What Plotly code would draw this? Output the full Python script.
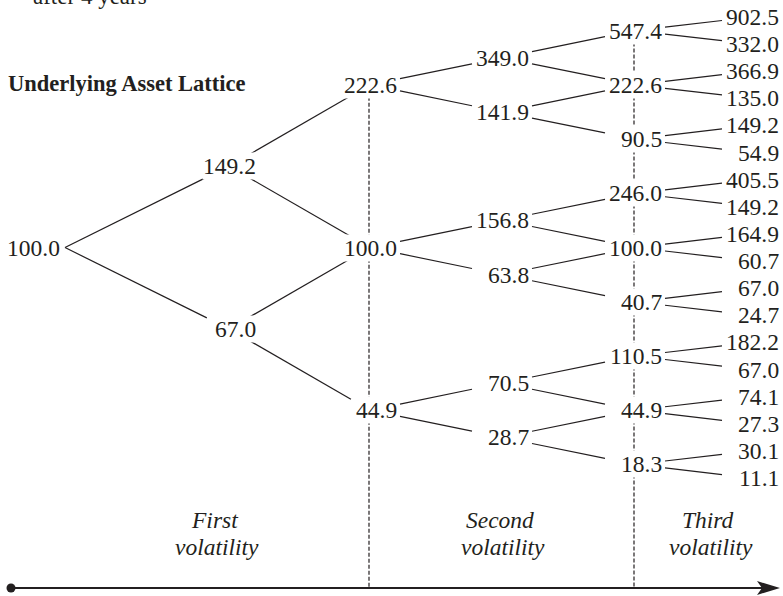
import plotly.graph_objects as go

# ---------------- data ----------------
level0 = [100.0]
level1 = [149.2, 67.0]
level2 = [222.6, 100.0, 44.9]
level3 = [349.0, 141.9, 156.8, 63.8, 70.5, 28.7]
level4 = [547.4, 222.6, 90.5, 246.0, 100.0, 40.7, 110.5, 44.9, 18.3]
level5 = [902.5, 332.0, 366.9, 135.0, 149.2, 54.9, 405.5, 149.2, 164.9,
          60.7, 67.0, 24.7, 182.2, 67.0, 74.1, 27.3, 30.1, 11.1]
period_names = ["First", "Second", "Third"]
period_word = "volatility"
title_text = "Underlying Asset Lattice"
top_caption = "after 4 years"

levels = [level0, level1, level2, level3, level4, level5]

# ---------------- structure (children indices) ----------------
def children(lv, i):
    if lv in (0, 1):            # recombining binomial, first volatility
        return [i, i + 1]
    if lv == 2:                 # each node starts a new sub-lattice
        return [2 * i, 2 * i + 1]
    if lv == 3:                 # recombining inside each sub-lattice
        k, m = divmod(i, 2)
        return [3 * k + m, 3 * k + m + 1]
    if lv == 4:                 # final branching, third volatility
        return [2 * i, 2 * i + 1]
    return []

# ---------------- layout constants (pixel-like units) ----------------
W, H = 783, 596
LEVEL_CX = [33, 229, 370, 502, 635, 752]   # box centres per level
RIGHT_OFF = 28                               # text right edge from centre
LEAF_TOP, LEAF_STEP = 17, 27.12
HW, HH = 30, 11                              # clipping box for branch lines
AXIS_Y, AXIS_X0, AXIS_X1 = 588, 11, 780
FONT = "Liberation Serif"
INK = "#231f20"

# y positions: leaves evenly spaced, parents at the mean of their children
ys = [None] * 6
ys[5] = [LEAF_TOP + LEAF_STEP * n for n in range(len(level5))]
for lv in range(4, -1, -1):
    ys[lv] = [sum(ys[lv + 1][c] for c in children(lv, i)) / 2
              for i in range(len(levels[lv]))]

# ---------------- branch lines ----------------
lx, ly = [], []
for lv in range(5):
    for i in range(len(levels[lv])):
        px, py = LEVEL_CX[lv], ys[lv][i]
        for c in children(lv, i):
            cx, cy = LEVEL_CX[lv + 1], ys[lv + 1][c]
            if lv == 0:
                sx, sy = px + RIGHT_OFF + 4, py
            else:
                dx, dy = cx - px, cy - py
                t = min(HW / abs(dx), HH / abs(dy) if dy else 1e9)
                sx, sy = px + t * dx, py + t * dy
            dx, dy = cx - sx, cy - sy
            t = min(HW / abs(dx), HH / abs(dy) if dy else 1e9)
            ex, ey = cx - t * dx, cy - t * dy
            lx += [sx, ex, None]
            ly += [sy, ey, None]

fig = go.Figure()
fig.add_trace(go.Scatter(x=lx, y=ly, mode="lines",
                         line=dict(color=INK, width=1.2),
                         hoverinfo="skip", showlegend=False))

# axis line + origin dot
fig.add_trace(go.Scatter(x=[AXIS_X0, AXIS_X1 - 18], y=[AXIS_Y, AXIS_Y], mode="lines",
                         line=dict(color=INK, width=2), hoverinfo="skip",
                         showlegend=False))
fig.add_trace(go.Scatter(x=[AXIS_X0], y=[AXIS_Y], mode="markers",
                         marker=dict(color=INK, size=9), hoverinfo="skip",
                         showlegend=False))

shapes = []
# arrow head
shapes.append(dict(
    type="path", xref="x", yref="y",
    path=(f"M{AXIS_X1},{AXIS_Y} L{AXIS_X1-23},{AXIS_Y-7} "
          f"L{AXIS_X1-18},{AXIS_Y} L{AXIS_X1-23},{AXIS_Y+7} Z"),
    fillcolor=INK, line=dict(width=0), layer="above"))
# dashed separators at level 2 and level 4
for lv in (2, 4):
    shapes.append(dict(type="line", xref="x", yref="y",
                       x0=LEVEL_CX[lv] - 1, x1=LEVEL_CX[lv] - 1,
                       y0=ys[lv][0], y1=AXIS_Y,
                       line=dict(color=INK, width=1.2, dash="4px,2px"),
                       layer="below"))

annotations = []
for lv, vals in enumerate(levels):
    for i, v in enumerate(vals):
        annotations.append(dict(
            x=LEVEL_CX[lv] + RIGHT_OFF, y=ys[lv][i], xref="x", yref="y",
            text=f"{v:.1f}", showarrow=False, xanchor="right", yanchor="middle",
            font=dict(family=FONT, size=23.5, color=INK),
            bgcolor="white", borderpad=0))

annotations.append(dict(x=6, y=83, xref="x", yref="y", text=f"<b>{title_text}</b>",
                        showarrow=False, xanchor="left", yanchor="middle",
                        font=dict(family=FONT, size=22.5, color=INK)))
# caption partly cut off at the top edge, as in the reference
annotations.append(dict(x=31, y=1 + 3 / H, xref="x", yref="paper", text=top_caption,
                        showarrow=False, xanchor="left", yanchor="middle",
                        font=dict(family=FONT, size=23, color=INK)))

label_cx = [214, 500, 708]
for name, cx in zip(period_names, label_cx):
    annotations.append(dict(x=cx, y=520, xref="x", yref="y", text=f"<i>{name}</i>",
                            showarrow=False, xanchor="center", yanchor="middle",
                            font=dict(family=FONT, size=23.5, color=INK)))
    annotations.append(dict(x=cx + 3, y=547, xref="x", yref="y",
                            text=f"<i>{period_word}</i>",
                            showarrow=False, xanchor="center", yanchor="middle",
                            font=dict(family=FONT, size=23.5, color=INK)))

fig.update_layout(
    width=W, height=H, margin=dict(l=0, r=0, t=0, b=0),
    paper_bgcolor="white", plot_bgcolor="white",
    xaxis=dict(range=[0, W], visible=False, fixedrange=True),
    yaxis=dict(range=[H, 0], visible=False, fixedrange=True),
    shapes=shapes, annotations=annotations, showlegend=False,
)

fig.write_html("out.html",
               config={"displayModeBar": False, "staticPlot": True},
               post_script="document.body.style.margin='0';"
                           "document.body.style.overflow='hidden';")
